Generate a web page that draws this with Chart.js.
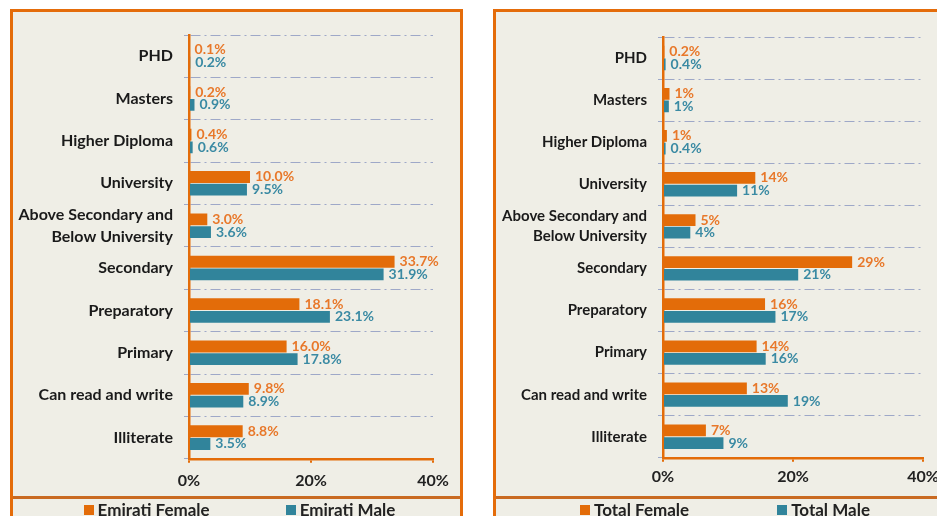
<!DOCTYPE html>
<html>
<head>
<meta charset="utf-8">
<script src="https://cdn.jsdelivr.net/npm/chart.js@4.4.1/dist/chart.umd.min.js"></script>
<style>
  html, body { margin: 0; padding: 0; background: #fff; overflow: hidden; width: 937px; height: 516px; }
  .panel { position: absolute; top: 9px; height: 560px; border: 3px solid #E46C0A; background: #EFEEE6; box-sizing: border-box; }
  .panel canvas { position: absolute; left: 0; top: 0; }
  .legend { position: absolute; left: 0; right: 0; top: 484px; border-top: 3px solid #C96A22; display: flex; justify-content: center;
            font: bold 17px Lato, sans-serif; color: #222; padding-top: 0; }
  .legend span.box { display: inline-block; width: 10px; height: 10px; margin-right: 4px; vertical-align: 1px; }
</style>
</head>
<body>
<div class="panel" id="pLeft" style="left:10px; width:453px;">
  <canvas id="chartLeft" width="447" height="495"></canvas>
  <div class="legend" id="legLeft" style="padding-left:6px; gap:76px;"></div>
</div>
<div class="panel" id="pRight" style="left:493px; width:470px;">
  <canvas id="chartRight" width="460" height="495"></canvas>
  <div class="legend" id="legRight" style="gap:88px; padding-right:6px;"></div>
</div>
<script>
const categories = ['PHD', 'Masters', 'Higher Diploma', 'University', ['Above Secondary and', 'Below University'],
                    'Secondary', 'Preparatory', 'Primary', 'Can read and write', 'Illiterate'];
const emiratiFemale = [0.1, 0.2, 0.4, 10.0, 3.0, 33.7, 18.1, 16.0, 9.8, 8.8];
const emiratiMale   = [0.2, 0.9, 0.6, 9.5, 3.6, 31.9, 23.1, 17.8, 8.9, 3.5];
const totalFemale   = [0.2, 1.0, 0.6, 14.2, 5.0, 29.1, 15.7, 14.4, 12.9, 6.6];
const totalMale     = [0.4, 0.9, 0.4, 11.4, 4.2, 20.8, 17.3, 15.8, 19.2, 9.3];
const xTicks = [0, 20, 40];

const ORANGE = '#E36C09';
const TEAL = '#31849B';

Chart.defaults.font.family = 'Lato';

// etiquetas no fim das barras
const barLabels = {
  id: 'barLabels',
  afterDatasetsDraw(chart, args, opts) {
    const ctx = chart.ctx;
    ctx.save();
    ctx.font = 'bold 14px Lato';
    ctx.textBaseline = 'middle';
    chart.data.datasets.forEach((ds, i) => {
      ctx.fillStyle = ds.labelColor;
      chart.getDatasetMeta(i).data.forEach((bar, j) => {
        ctx.fillText(opts.format(ds.data[j]), bar.x + 5, bar.y);
      });
    });
    ctx.restore();
  }
};

function makeChart(id, legendId, labels, female, male, axisWidth, catSize, tickPad, pad, format) {
  const chart = new Chart(document.getElementById(id), {
    type: 'bar',
    data: {
      labels: categories,
      datasets: [
        { label: labels[0], data: female, backgroundColor: ORANGE, labelColor: '#E8782A',
          categoryPercentage: 0.6, barPercentage: 0.93 },
        { label: labels[1], data: male, backgroundColor: TEAL, labelColor: '#3A8AA3',
          categoryPercentage: 0.6, barPercentage: 0.93 }
      ]
    },
    plugins: [barLabels],
    options: {
      indexAxis: 'y',
      responsive: false,
      animation: false,
      layout: { padding: pad },
      plugins: {
        legend: { display: false },
        tooltip: { enabled: false },
        barLabels: { format: format }
      },
      scales: {
        x: {
          min: 0, max: 40,
          afterBuildTicks: s => { s.ticks = xTicks.map(v => ({ value: v })); },
          ticks: { callback: v => v + '%', color: '#222', font: { weight: 'bold', size: 16 }, padding: tickPad },
          grid: { drawOnChartArea: false, color: ORANGE, tickLength: 4, lineWidth: 2 },
          border: { color: ORANGE, width: 2.5 }
        },
        y: {
          afterFit: s => { s.width = axisWidth; },
          ticks: { autoSkip: false, color: '#1a1a1a', font: { weight: 'bold', size: catSize, lineHeight: 1.35 }, padding: 11 },
          grid: { color: '#9EA8C8', lineWidth: 1, tickLength: 5 },
          border: { color: ORANGE, width: 2.5, dash: [10, 4, 2, 4] }
        }
      }
    }
  });
  // legenda em HTML abaixo da linha
  document.getElementById(legendId).innerHTML = chart.data.datasets.map(ds =>
    '<div><span class="box" style="background:' + ds.backgroundColor + '"></span>' + ds.label + '</div>').join('');
  return chart;
}

makeChart('chartLeft', 'legLeft', ['Emirati Female', 'Emirati Male'], emiratiFemale, emiratiMale, 176, 16, 8,
  { top: 23, right: 27, bottom: 9, left: 0 }, v => v.toFixed(1) + '%');
makeChart('chartRight', 'legRight', ['Total Female', 'Total Male'], totalFemale, totalMale, 167, 15, 5,
  { top: 25, right: 33, bottom: 16, left: 0 }, v => (v < 0.5 ? v.toFixed(1) : Math.round(v)) + '%');
</script>
</body>
</html>
